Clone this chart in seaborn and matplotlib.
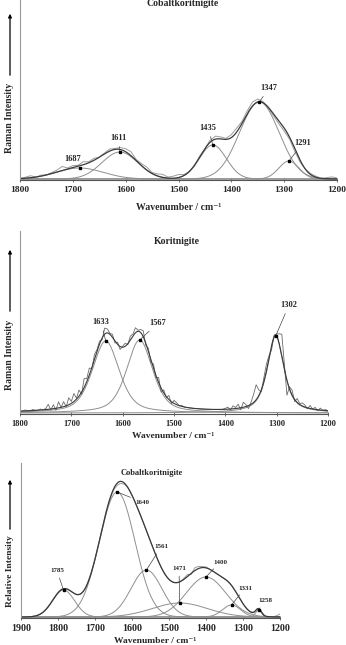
import numpy as np
import pandas as pd
import matplotlib
matplotlib.use("Agg")
import matplotlib.pyplot as plt
import seaborn as sns

# ---------------- data ----------------
# Panel 1: Cobaltkoritnigite (Raman, fitted bands)
bands1 = [1687, 1611, 1435, 1347, 1291]
heights1 = [11, 27, 34, 77, 18]
fwhm1 = [105, 80, 60, 88, 45]
raw1_x = list(range(1800, 1195, -10))
raw1_resid = [0, 1, 2, 0, 1, 0, 1, 2, 4, 1,
              2, 1, 3, 1, 2, 0, 1, 2, 1, 2,
              3, 4, 1, 2, 3, 1, 2, 3, 1, 2,
              3, 1, 0, -1, 1, 0, 2, 3, 2, 1,
              3, 4, 2, 3, 4, 3, 1, -1, -2, -3,
              -3, -2, -3, -2, 0, 1, 1, 0, 1, 2,
              1]

# Panel 2: Koritnigite
bands2 = [1633, 1567, 1302]
heights2 = [72, 73, 77]
fwhm2 = [62, 60, 38]
eta2 = [0.5, 0.5, 0.7]
raw2_x = list(range(1800, 1195, -5))
raw2_resid = [0, 0, 1, 0, 0, 1, 0, 0, 1, 0,
              1, 5, -1, 4, -2, 6, 0, 5, -1, 7,
              2, 8, 1, 6, -2, 9, 3, 7, -1, 5,
              2, 3, -2, 6, 4, 1, 3, -2, 2, -3,
              1, 3, -1, 4, 2, 5, 1, 3, 6, -2,
              3, -3, 4, -2, 5, -4, 3, -1, 4, -2,
              3, 2, 0, 1, 0, 0, 0, 0, 0, 0,
              0, 0, 0, 0, 0, 0, 0, 0, 0, 0,
              1, 2, -1, 3, 1, 4, -2, 5, 2, -3,
              2, 8, 15, 6, -2, 4, 7, 3, -4, 2,
              2, 10, 22, 5, -15, 2, 5, -2, 4, 1,
              3, 2, -1, 3, 0, 2, -1, 2, 0, 1,
              0]

# Panel 3: Cobaltkoritnigite (second spectrum)
bands3 = [1785, 1640, 1561, 1471, 1400, 1331, 1258]
heights3 = [27, 125, 47, 14, 40, 12, 7]
fwhm3 = [70, 113, 98, 175, 125, 58, 18]
raw3_x = list(range(1900, 1195, -10))
raw3_resid = ([0] * 25 + [-1, -2, -2, -1] + [0] * 15 + [1, 2, -1, 3, 2, 1, 1]
              + [0] * 18 + [1, 3])

# ---------------- helpers ----------------
def band(x, c, h, w, eta=0.0):
    s = w / 2.3548
    g = np.exp(-0.5 * ((x - c) / s) ** 2)
    l = 1.0 / (1.0 + ((x - c) / (w / 2.0)) ** 2)
    return h * ((1 - eta) * g + eta * l)

def model(x, cs, hs, ws, etas=None):
    etas = etas or [0.0] * len(cs)
    return sum(band(x, c, h, w, e) for c, h, w, e in zip(cs, hs, ws, etas))

W, H = 346, 645
sns.set_theme(style="white")
plt.rcParams["font.family"] = ["Liberation Serif", "DejaVu Serif"]
plt.rcParams["font.weight"] = "bold"

fig = plt.figure(figsize=(W / 100, H / 100), dpi=100)

def px_axes(l, t, r, b):
    return fig.add_axes([l / W, 1 - b / H, (r - l) / W, (b - t) / H])

def ftext(x, y, s, **kw):
    fig.text(x / W, 1 - y / H, s, **kw)

def style_axes(ax, fs):
    for sp in ["top", "right"]:
        ax.spines[sp].set_visible(False)
    ax.spines["left"].set_color("#9a9a9a")
    ax.spines["left"].set_linewidth(0.8)
    ax.spines["bottom"].set_color("#555555")
    ax.spines["bottom"].set_linewidth(0.8)
    ax.set_yticks([])
    ax.tick_params(axis="x", direction="inout", length=3, width=0.6, color="#555555",
                   labelsize=fs, pad=3, bottom=True)
    for lab in ax.get_xticklabels():
        lab.set_fontweight("bold")
    ax.set_xlabel("")
    ax.set_ylabel("")

def y_arrow(x, y0, y1, yt, label, fs):
    fig.add_artist(matplotlib.patches.FancyArrowPatch(
        (x / W, 1 - y0 / H), (x / W, 1 - y1 / H), transform=fig.transFigure,
        arrowstyle="-|>", mutation_scale=5, lw=0.9, color="black"))
    ftext(x, yt, label, rotation=90, ha="center", va="center", fontsize=fs, fontweight="bold")

def annotate(ax, label, c, h, tx, ty, fs):
    ax.plot([c], [h], "s", ms=1.8, color="black", zorder=5)
    ax.annotate(label, xy=(c, h), xycoords="data", xytext=(tx, H - ty),
                textcoords="figure pixels", ha="center", va="center", fontsize=fs,
                fontweight="bold",
                arrowprops=dict(arrowstyle="-", lw=0.5, color="#444444", shrinkA=1, shrinkB=0))

COMP = "#8f8f8f"
SUM = "#3a3a3a"
RAW = "#9d9d9d"

# ---------------- panel 1 ----------------
ax1 = px_axes(20, -2, 337, 180)
xf1 = np.linspace(1800, 1200, 601)
for c, h, w in zip(bands1, heights1, fwhm1):
    sns.lineplot(x=xf1, y=band(xf1, c, h, w), ax=ax1, color=COMP, lw=0.7, sort=False)
rx1 = np.array(raw1_x, float)
sns.lineplot(x=rx1, y=model(rx1, bands1, heights1, fwhm1) + np.array(raw1_resid), ax=ax1,
             color=RAW, lw=0.7, sort=False)
sns.lineplot(x=xf1, y=model(xf1, bands1, heights1, fwhm1), ax=ax1, color=SUM, lw=0.9, sort=False)
ax1.set_xlim(1800, 1200)
ax1.set_ylim(-1, 181)
ax1.set_xticks([1800, 1700, 1600, 1500, 1400, 1300, 1200])
style_axes(ax1, 6.8)
pos1 = [(73, 159), (119, 138), (208, 128), (269, 88), (303, 143)]
for (c, h), (tx, ty) in zip(zip(bands1, heights1), pos1):
    annotate(ax1, str(c), c, h, tx, ty, 6)
ftext(183, 4, "Cobaltkoritnigite", ha="center", va="center", fontsize=7, fontweight="bold")
ftext(179, 207, "Wavenumber / cm⁻¹", ha="center", va="center", fontsize=7, fontweight="bold")
y_arrow(10, 78, 11, 118, "Raman Intensity", 7)

# ---------------- panel 2 ----------------
ax2 = px_axes(20, 231, 328, 414)
xf2 = np.linspace(1800, 1200, 1201)
for c, h, w, e in zip(bands2, heights2, fwhm2, eta2):
    sns.lineplot(x=xf2, y=band(xf2, c, h, w, e), ax=ax2, color=COMP, lw=0.7, sort=False)
rx2 = np.array(raw2_x, float)
sns.lineplot(x=rx2, y=model(rx2, bands2, heights2, fwhm2, eta2) + np.array(raw2_resid), ax=ax2,
             color="#6a6a6a", lw=0.6, sort=False)
sns.lineplot(x=xf2, y=model(xf2, bands2, heights2, fwhm2, eta2), ax=ax2, color=SUM, lw=0.8, sort=False)
ax2.set_xlim(1800, 1200)
ax2.set_ylim(-1, 182)
ax2.set_xticks([1800, 1700, 1600, 1500, 1400, 1300, 1200])
style_axes(ax2, 6)
pos2 = [(101, 322), (158, 323), (289, 305)]
for (c, h), (tx, ty) in zip(zip(bands2, heights2), pos2):
    annotate(ax2, str(c), c, h, tx, ty, 6)
ftext(177, 242, "Koritnigite", ha="center", va="center", fontsize=7, fontweight="bold")
ftext(173, 436, "Wavenumber / cm⁻¹", ha="center", va="center", fontsize=6.8, fontweight="bold")
y_arrow(10, 314, 247, 355, "Raman Intensity", 7)

# ---------------- panel 3 ----------------
ax3 = px_axes(21, 463, 280, 618)
xf3 = np.linspace(1900, 1200, 701)
for c, h, w in zip(bands3, heights3, fwhm3):
    sns.lineplot(x=xf3, y=band(xf3, c, h, w), ax=ax3, color=COMP, lw=0.7, sort=False)
rx3 = np.array(raw3_x, float)
sns.lineplot(x=rx3, y=model(rx3, bands3, heights3, fwhm3) + np.array(raw3_resid), ax=ax3,
             color=RAW, lw=0.7, sort=False)
sns.lineplot(x=xf3, y=model(xf3, bands3, heights3, fwhm3), ax=ax3, color=SUM, lw=0.9, sort=False)
ax3.set_xlim(1900, 1200)
ax3.set_ylim(-1, 154)
ax3.set_xticks([1900, 1800, 1700, 1600, 1500, 1400, 1300, 1200])
style_axes(ax3, 7.2)
pos3 = [(57, 571), (142, 502), (161, 547), (179, 569), (220, 562), (245, 588), (265, 601)]
for (c, h), (tx, ty) in zip(zip(bands3, heights3), pos3):
    annotate(ax3, str(c), c, h, tx, ty, 5)
ftext(152, 473, "Cobaltkoritnigite", ha="center", va="center", fontsize=6, fontweight="bold")
ftext(155, 641, "Wavenumber / cm⁻¹", ha="center", va="center", fontsize=6.8, fontweight="bold")
y_arrow(10, 532, 477, 571, "Relative Intensity", 6.8)

fig.savefig("out.png", dpi=100)
